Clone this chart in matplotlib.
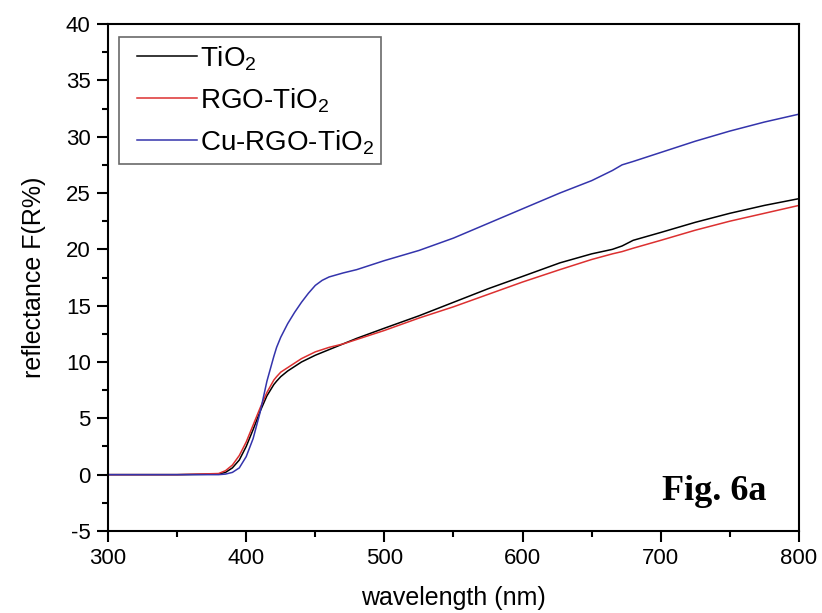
import matplotlib
matplotlib.use("Agg")
import matplotlib.pyplot as plt
from matplotlib.ticker import MultipleLocator
from matplotlib.lines import Line2D
from matplotlib.legend_handler import HandlerLine2D

matplotlib.rcParams['font.family'] = 'Liberation Sans'
matplotlib.rcParams['axes.unicode_minus'] = False
matplotlib.rcParams['mathtext.fontset'] = 'custom'
matplotlib.rcParams['mathtext.rm'] = 'Liberation Sans'

# wavelength (nm) and reflectance F(R%)
wavelength = [300, 350, 380, 385, 390, 395, 400, 405, 410, 415, 420, 422, 425, 430,
              435, 440, 445, 450, 455, 460, 470, 480, 500, 525, 550, 575, 600, 627, 650,
              665, 672, 680, 700, 725, 750, 775, 800]
tio2 = [0, 0, 0.05, 0.2, 0.6, 1.3, 2.5, 4.0, 5.6, 7.0, 8.0, 8.3, 8.7, 9.2,
        9.6, 10.0, 10.3, 10.6, 10.85, 11.1, 11.6, 12.1, 13.0, 14.1, 15.3, 16.5, 17.6, 18.8, 19.6,
        20.0, 20.3, 20.8, 21.5, 22.4, 23.2, 23.9, 24.5]
rgo_tio2 = [0, 0, 0.1, 0.35, 0.85, 1.7, 2.9, 4.4, 5.9, 7.3, 8.4, 8.7, 9.1, 9.5,
            9.9, 10.3, 10.6, 10.9, 11.1, 11.3, 11.6, 12.0, 12.8, 13.9, 14.9, 16.0, 17.1, 18.2, 19.1,
            19.6, 19.8, 20.1, 20.8, 21.7, 22.5, 23.2, 23.9]
cu_rgo_tio2 = [0, 0, 0, 0.05, 0.2, 0.6, 1.6, 3.2, 5.5, 8.3, 10.5, 11.3, 12.2, 13.4,
               14.4, 15.3, 16.1, 16.8, 17.25, 17.55, 17.9, 18.2, 19.0, 19.9, 21.0, 22.3, 23.6, 25.0, 26.1,
               27.0, 27.5, 27.8, 28.6, 29.6, 30.5, 31.3, 32.0]

series = [
    (tio2, "TiO$_2$", "black"),
    (rgo_tio2, "RGO-TiO$_2$", "#dc3030"),
    (cu_rgo_tio2, "Cu-RGO-TiO$_2$", "#3434ac"),
]

fig = plt.figure(figsize=(8.22, 6.13), dpi=100)
ax = fig.add_axes([0.1314, 0.1338, 0.8406, 0.827])

for ys, label, color in series:
    ax.plot(wavelength, ys, color=color, lw=1.1, label=label)

ax.set_xlim(300, 800)
ax.set_ylim(-5, 40)
ax.xaxis.set_major_locator(MultipleLocator(100))
ax.xaxis.set_minor_locator(MultipleLocator(50))
ax.yaxis.set_major_locator(MultipleLocator(5))
ax.yaxis.set_minor_locator(MultipleLocator(2.5))
ax.tick_params(which='major', direction='out', length=8, width=1.5, labelsize=16, pad=4.5)
ax.tick_params(which='minor', direction='out', length=4, width=1.5)
for sp in ax.spines.values():
    sp.set_linewidth(1.5)

ax.set_xlabel("wavelength (nm)", fontsize=18, labelpad=12)
ax.set_ylabel("reflectance F(R%)", fontsize=18, labelpad=14)

leg = ax.legend(loc='upper left', bbox_to_anchor=(0.016, 0.974), borderaxespad=0,
                fontsize=20, fancybox=False, handlelength=2.55, labelspacing=0.47,
                borderpad=0.25, handletextpad=0.1,
                handler_map={Line2D: HandlerLine2D(xpad=0.4)})
leg.get_frame().set_edgecolor('#444444')
leg.get_frame().set_linewidth(1.2)

ax.text(0.878, 0.061, "Fig. 6a", transform=ax.transAxes, ha='center', va='baseline',
        fontsize=26, fontweight='bold', family='Liberation Serif')

fig.savefig("out.png", dpi=100)
